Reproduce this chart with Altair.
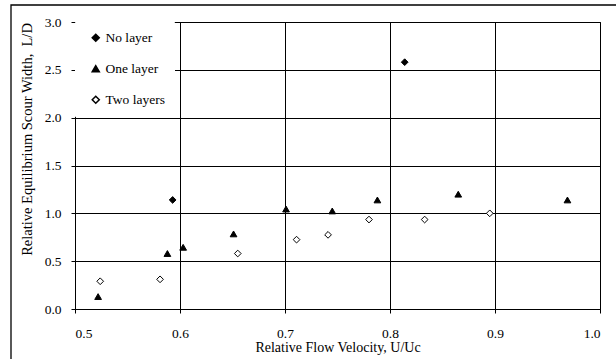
import altair as alt
import pandas as pd

# Data
no_layer_x = [0.593, 0.814]
no_layer_y = [1.14, 2.58]

one_layer_x = [0.522, 0.588, 0.603, 0.651, 0.701, 0.745, 0.788, 0.865, 0.969]
one_layer_y = [0.13, 0.58, 0.645, 0.785, 1.045, 1.025, 1.14, 1.20, 1.14]

two_layers_x = [0.524, 0.581, 0.655, 0.711, 0.741, 0.780, 0.833, 0.895]
two_layers_y = [0.29, 0.31, 0.58, 0.725, 0.775, 0.935, 0.935, 1.00]

series_names = ["No layer", "One layer", "Two layers"]
x_ticks = [0.5, 0.6, 0.7, 0.8, 0.9, 1.0]
y_ticks = [0.0, 0.5, 1.0, 1.5, 2.0, 2.5, 3.0]

rows = []
for name, xs, ys in zip(series_names,
                        [no_layer_x, one_layer_x, two_layers_x],
                        [no_layer_y, one_layer_y, two_layers_y]):
    for xv, yv in zip(xs, ys):
        rows.append({"series": name, "U": xv, "L": yv})
df = pd.DataFrame(rows)

FONT = "Liberation Serif"

points = alt.Chart(df).mark_point(filled=True, size=45, strokeWidth=1, opacity=1).encode(
    x=alt.X("U:Q",
            scale=alt.Scale(domain=[0.5, 1.0], nice=False, zero=False),
            axis=alt.Axis(values=x_ticks, format=".1f",
                          title="Relative Flow Velocity, U/Uc",
                          titleY=38, titleBaseline="middle")),
    y=alt.Y("L:Q",
            scale=alt.Scale(domain=[0, 3], nice=False),
            axis=alt.Axis(values=y_ticks, format=".1f",
                          title="Relative Equilibrium Scour Width,\u00a0\u00a0L/D",
                          titleX=-48, titleY=117, titleAngle=270,
                          titleAlign="center", titleBaseline="middle",
                          titleFontSize=14.5)),
    shape=alt.Shape("series:N",
                    scale=alt.Scale(domain=series_names,
                                    range=["diamond", "triangle-up", "diamond"]),
                    legend=alt.Legend(title=None)),
    fill=alt.Fill("series:N",
                  scale=alt.Scale(domain=series_names,
                                  range=["black", "black", "white"]),
                  legend=alt.Legend(title=None)),
    stroke=alt.Stroke("series:N",
                      scale=alt.Scale(domain=series_names,
                                      range=["black", "black", "black"]),
                      legend=alt.Legend(title=None)),
)

frame_df = pd.DataFrame({"k": [0]})
frame = alt.Chart(frame_df).mark_rect(fill="transparent", stroke="black", strokeWidth=1.3, clip=False).encode(
    x=alt.value(-64), x2=alt.value(560), y=alt.value(-17), y2=alt.value(360)
)

chart = alt.layer(points, frame).properties(
    width=525, height=287,
    autosize=alt.AutoSizeParams(type="none"),
    padding={"left": 75, "top": 22, "right": 16, "bottom": 50},
    background="white",
).configure(
    font=FONT
).configure_view(
    stroke="black", strokeWidth=1
).configure_axis(
    grid=True, gridColor="black", gridWidth=1, gridOpacity=1,
    domainColor="black", domainWidth=1,
    tickColor="black", tickSize=4, tickWidth=1,
    labelFont=FONT, labelFontSize=13.5, labelColor="black",
    titleFont=FONT, titleFontSize=14, titleColor="black", titleFontWeight="normal",
).configure_axisX(
    labelPadding=13
).configure_axisY(
    labelPadding=10
).configure_legend(
    orient="none", legendX=0, legendY=0,
    fillColor="white", strokeColor="white", padding=9,
    symbolOffset=5, labelOffset=3, rowPadding=16,
    symbolSize=50,
    labelFont=FONT, labelFontSize=13.5, labelColor="black",
    direction="vertical",
)

chart.save("out.html", embed_options={"renderer": "svg", "actions": False})
